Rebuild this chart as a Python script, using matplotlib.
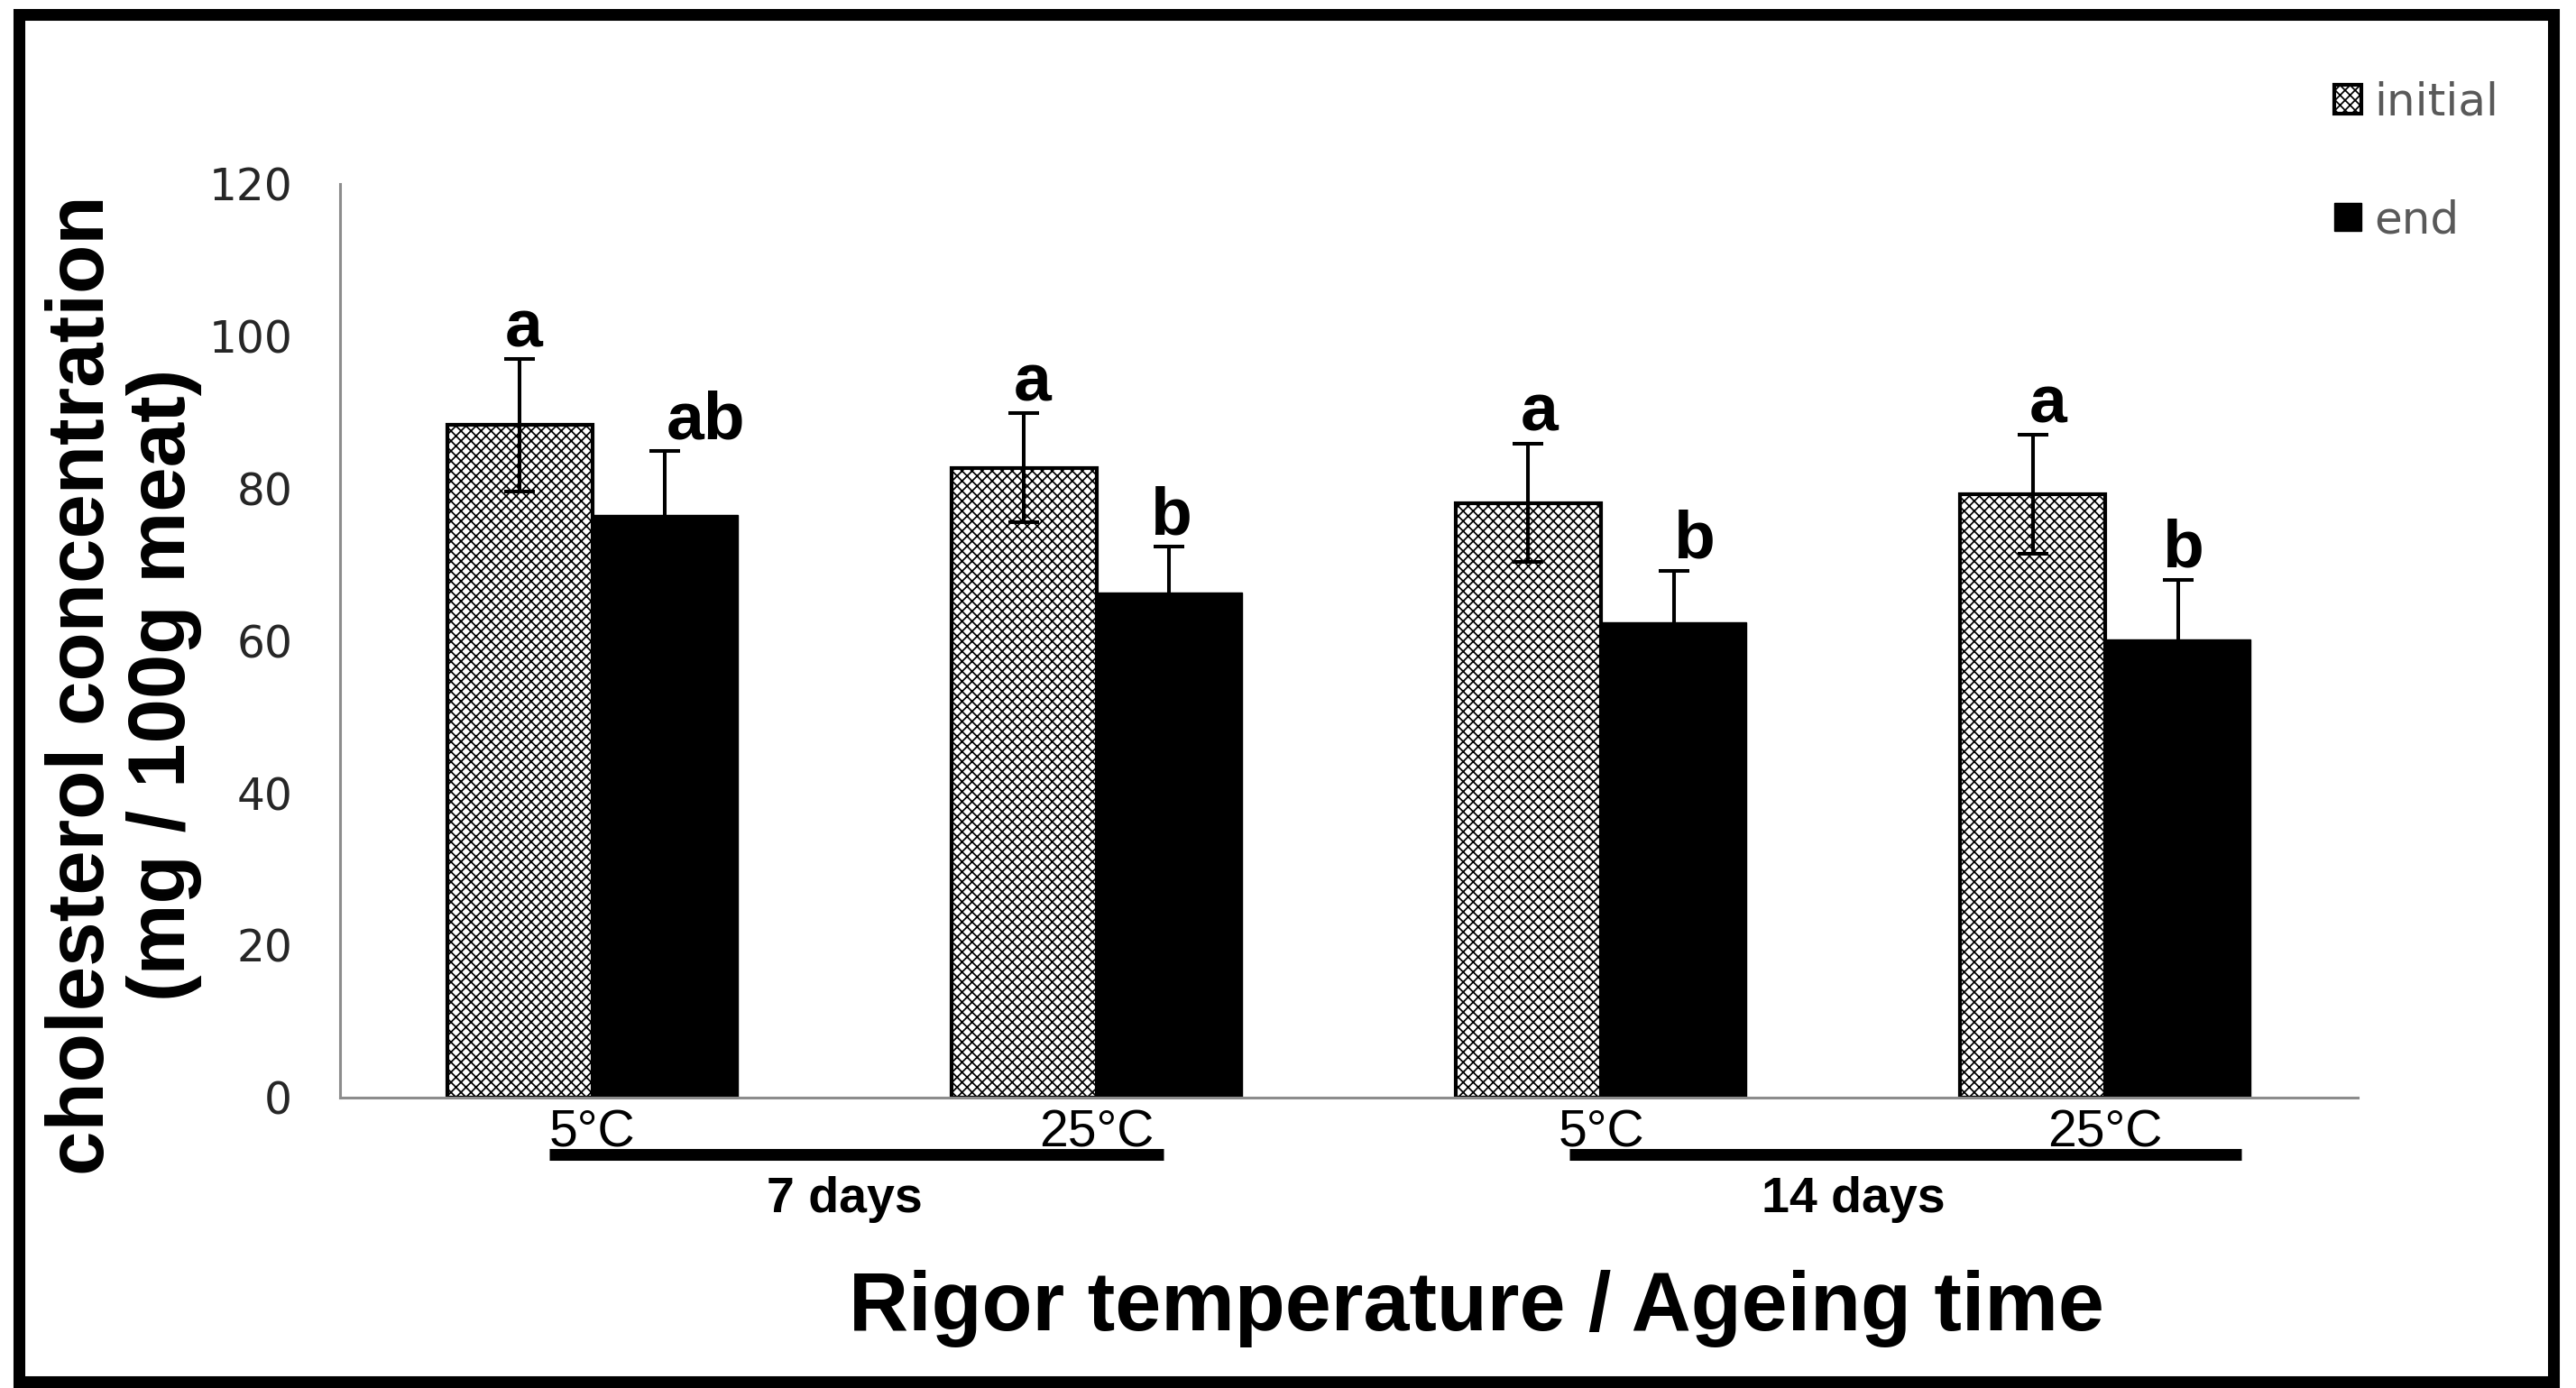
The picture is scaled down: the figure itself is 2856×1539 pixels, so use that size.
import matplotlib
matplotlib.use('Agg')
import matplotlib.pyplot as plt
from matplotlib.patches import Rectangle
import matplotlib.transforms as mtransforms
import numpy as np


# データ
temps = ['5°C', '25°C', '5°C', '25°C']
ages = ['7 days', '14 days']
initial = [88.3, 82.7, 78.1, 79.2]
initial_err = [8.7, 7.2, 7.8, 7.8]
end = [76.5, 66.3, 62.4, 60.2]
end_err = [8.4, 6.0, 6.8, 7.8]
initial_letters = ['a', 'a', 'a', 'a']
end_letters = ['ab', 'b', 'b', 'b']

# 文字の横方向のずれ（ポイント）
initial_dx = [3, 7, 9, 12]
end_dx = [33, 1, 16, 4]

plt.rcParams['font.family'] = ['Liberation Sans', 'DejaVu Sans']
plt.rcParams['hatch.linewidth'] = 1.25

fig = plt.figure(figsize=(28.56, 15.39), dpi=100)
ax = fig.add_axes([0.132, 0.2095, 0.7832, 0.658])

# 棒グラフ
x = np.arange(len(temps))
width = 0.288
bars_i = ax.bar(x - width / 2, initial, width, facecolor='white', edgecolor='black',
                hatch='xxx', linewidth=3, label='initial', zorder=2)
bars_e = ax.bar(x + width / 2, end, width, facecolor='black', edgecolor='black',
                linewidth=1, label='end', zorder=2)

# 誤差棒
ax.errorbar(x - width / 2, initial, yerr=initial_err, fmt='none', ecolor='black',
            elinewidth=2.9, capsize=12, capthick=2.9, zorder=3)
ax.errorbar(x + width / 2, end, yerr=end_err, fmt='none', ecolor='black',
            elinewidth=2.9, capsize=12, capthick=2.9, zorder=3)

# 有意差の文字
for xi, v, e, s, dx in zip(x - width / 2, initial, initial_err, initial_letters, initial_dx):
    ax.annotate(s, xy=(xi, v + e), xytext=(dx, 10), textcoords='offset points',
                ha='center', va='baseline', fontsize=54, fontweight='bold')
for xi, v, e, s, dx in zip(x + width / 2, end, end_err, end_letters, end_dx):
    ax.annotate(s, xy=(xi, v + e), xytext=(dx, 10), textcoords='offset points',
                ha='center', va='baseline', fontsize=54, fontweight='bold')

# 軸の設定
ax.set_xlim(-0.5, 3.5)
ax.set_ylim(0, 120)
ax.set_yticks(np.arange(0, 121, 20))
ax.set_xticks(x, labels=temps)
ax.tick_params(axis='y', length=0, pad=38, labelsize=35, labelcolor='#262626')
ax.tick_params(axis='x', length=0, pad=9, labelsize=41, labelcolor='black')
for t in ax.get_yticklabels():
    t.set_family('DejaVu Sans')
for side in ['top', 'right']:
    ax.spines[side].set_visible(False)
for side in ['left', 'bottom']:
    ax.spines[side].set_color('#8c8c8c')
    ax.spines[side].set_linewidth(2.2)

# 熟成期間の下線とラベル
trans = mtransforms.blended_transform_factory(ax.transData, ax.transAxes)
spans = [(0, 1, -0.085, 0.133), (2, 3, -0.062, 0.27)]
for (a, b, da, db), lab in zip(spans, ages):
    ax.plot([a + da, b + db], [-0.063, -0.063], color='black', linewidth=9.4,
            solid_capstyle='butt', transform=trans, clip_on=False)
    ax.text((a + b) / 2, -0.112, lab, transform=trans, ha='center', va='center',
            fontsize=40, fontweight='bold')

# 軸ラベル
fig.text(0.573, 0.057, 'Rigor temperature / Ageing time', ha='center', va='center',
         fontsize=66, fontweight='bold')
fig.text(0.048, 0.5065, 'cholesterol concentration\n(mg / 100g meat)', rotation=90,
         ha='center', va='center', multialignment='center', linespacing=1.1,
         fontsize=64, fontweight='bold')

# 凡例
fig.legend(handles=[bars_i, bars_e], labels=['initial', 'end'], loc='upper left',
           bbox_to_anchor=(0.8905, 0.971), frameon=False,
           handlelength=0.6, handleheight=0.6, handletextpad=0.27,
           labelspacing=1.65, labelcolor='#595959', prop={'family': 'DejaVu Sans', 'size': 36})

# 外枠
fig.add_artist(Rectangle((0.00735, 0.00487), 0.98375, 0.98441, transform=fig.transFigure,
                         fill=False, edgecolor='black', linewidth=9.4))

plt.savefig('out.png', dpi=100)
